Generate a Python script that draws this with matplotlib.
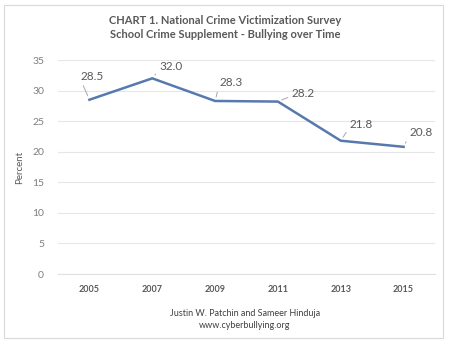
import matplotlib
matplotlib.use("Agg")
import matplotlib.pyplot as plt
from matplotlib.patches import Rectangle

years = ["2005", "2007", "2009", "2011", "2013", "2015"]
values = [28.5, 32.0, 28.3, 28.2, 21.8, 20.8]
value_labels = ["28.5", "32.0", "28.3", "28.2", "21.8", "20.8"]
yticks = [0, 5, 10, 15, 20, 25, 30, 35]
label_offsets_px = [(2, 23), (18, 11), (15, 18), (25, 8), (20, 16), (17, 14)]

plt.rcParams['font.family'] = ['Lato', 'DejaVu Sans']

fig = plt.figure(figsize=(4.5, 3.45), dpi=100)
fig.patch.set_facecolor('white')
fig.patches.append(Rectangle((4/450, 1-338/345), 439/450, 333/345, transform=fig.transFigure,
                             fill=False, edgecolor='#d9d9d9', linewidth=0.8))

ax = fig.add_axes([58/450, 1-274/345, 377/450, 214/345])
x = list(range(len(years)))
ax.plot(x, values, color='#5679ae', linewidth=1.8, solid_joinstyle='miter')
ax.set_xlim(-0.5, len(years)-0.5)
ax.set_ylim(0, 35)
ax.set_yticks(yticks)
ax.set_yticklabels([str(t) for t in yticks], fontsize=7.5, color='#7f7f7f')
ax.set_xticks(x)
ax.set_xticklabels(years, fontsize=6.5, color='#595959', fontweight='bold')
ax.tick_params(length=0, pad=8)
ax.tick_params(axis='y', pad=10)
ax.grid(axis='y', color='#e6e6e6', linewidth=0.8)
ax.set_axisbelow(True)
for s in ax.spines.values():
    s.set_visible(False)
ax.spines['bottom'].set_visible(True)
ax.spines['bottom'].set_color('#e0e0e0')
ax.set_ylabel('Percent', fontsize=7, color='#595959', labelpad=6)

for xi, v, lab, (dx, dy) in zip(x, values, value_labels, label_offsets_px):
    ax.annotate(lab, xy=(xi, v), xytext=((dx - 11)*0.72, (dy - 5)*0.72), textcoords='offset points',
                ha='left', va='bottom', fontsize=8.5, color='#595959',
                arrowprops=dict(arrowstyle='-', color='#a6a6a6', lw=0.7,
                                shrinkA=1, shrinkB=3, relpos=(0.0, 0.25)))

fig.text(0.5, 1-20/345, 'CHART 1. National Crime Victimization Survey', ha='center', va='center',
         fontsize=8, fontweight='bold', color='#595959')
fig.text(0.5, 1-35/345, 'School Crime Supplement - Bullying over Time', ha='center', va='center',
         fontsize=8, fontweight='bold', color='#595959')
fig.text(245/450, 1-313/345, 'Justin W. Patchin and Sameer Hinduja', ha='center', va='center',
         fontsize=6.5, color='#404040')
fig.text(245/450, 1-326/345, 'www.cyberbullying.org', ha='center', va='center',
         fontsize=6.5, color='#404040')

fig.savefig('out.png', dpi=100, facecolor='white')
